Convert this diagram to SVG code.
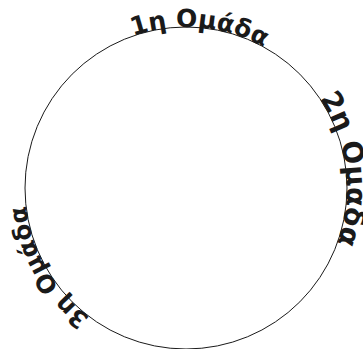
<svg xmlns="http://www.w3.org/2000/svg" width="363" height="349" viewBox="0 0 363 349">
<style>
.ring{fill:none;stroke:#1a1a1a;stroke-width:1}
.lbl{font-family:"DejaVu Sans","Verdana",sans-serif;font-weight:bold;font-size:25px;fill:#1a1a1a}
.guide{fill:none;stroke:none}
</style>
<defs>
<path id="p1" class="guide" d="M133.1,36 A161,161 0 0 1 325.4,107.5"/>
<path id="p2" class="guide" d="M319.5,98.5 A161,161 0 0 1 309.3,291.5"/>
<path id="p3" class="guide" d="M90,317.3 A161,161 0 0 1 34.7,132.9"/>
</defs>
<rect width="363" height="349" fill="#fff"/>
<g id="ring">
<circle class="ring" cx="186" cy="188" r="161"/>
</g>
<g id="group1">
<text class="lbl"><textPath href="#p1">1η Ομάδα</textPath></text>
</g>
<g id="group2">
<text class="lbl" style="font-size:28px"><textPath href="#p2">2η Ομάδα</textPath></text>
</g>
<g id="group3">
<text class="lbl" style="font-size:24.5px"><textPath href="#p3">3η Ομάδα</textPath></text>
</g>
</svg>
